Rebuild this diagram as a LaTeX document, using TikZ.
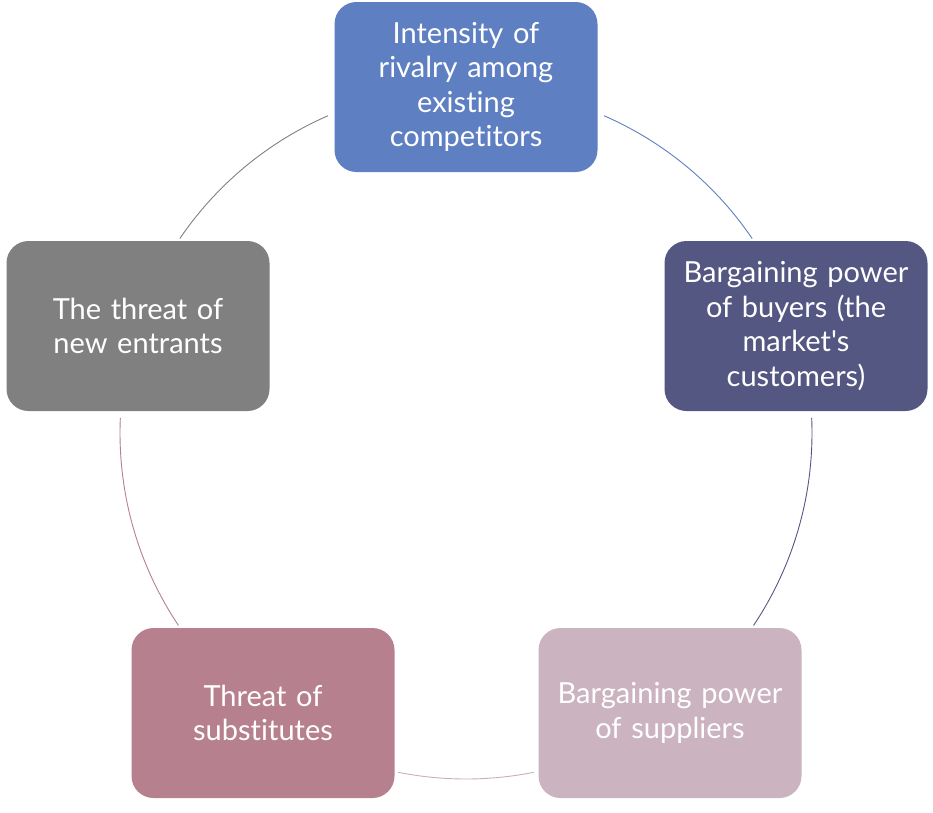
\documentclass[tikz,border=0pt]{standalone}
\usepackage{fontspec}
\setmainfont[Ligatures={NoCommon}]{Lato}
\definecolor{cTop}{HTML}{5E7FC1}
\definecolor{cRight}{HTML}{535782}
\definecolor{cBR}{HTML}{CBB3C0}
\definecolor{cBL}{HTML}{B6808F}
\definecolor{cLeft}{HTML}{808080}
\definecolor{cArc}{HTML}{C9AEBB}
\begin{document}
\begin{tikzpicture}[x=1pt,y=1pt,
  force/.style={rounded corners=22pt, minimum width=263pt, minimum height=170pt,
    text width=250pt, align=center, text=white, inner sep=0pt,
    font=\fontsize{29}{34.5}\selectfont},
  ring/.style={line width=0.9pt}]
\useasboundingbox (0,0) rectangle (933,-812);
\coordinate (c) at (466,-433);
\node[force, fill=cTop] (top) at (466,-87) {Intensity of\\rivalry among\\existing\\competitors};
\node[force, fill=cRight] (right) at (796,-326) {Bargaining power\\of buyers (the\\market\textquotesingle s\\customers)};
\node[force, fill=cBR] (br) at (670,-713) {Bargaining power\\of suppliers};
\node[force, fill=cBL] (bl) at (263,-713) {Threat of\\substitutes};
\node[force, fill=cLeft] (left) at (138,-326) {The threat of\\new entrants};
\draw[ring, cTop] (c) ++(34.2:346) arc[start angle=34.2, end angle=66.5, radius=346];
\draw[ring, cRight] (c) ++(-33.8:346) arc[start angle=-33.8, end angle=2.5, radius=346];
\draw[ring, cArc] (c) ++(-101.3:346) arc[start angle=-101.3, end angle=-78.7, radius=346];
\draw[ring, cBL] (c) ++(177.5:346) arc[start angle=177.5, end angle=213.8, radius=346];
\draw[ring, cLeft] (c) ++(113.5:346) arc[start angle=113.5, end angle=145.8, radius=346];
\end{tikzpicture}
\end{document}
